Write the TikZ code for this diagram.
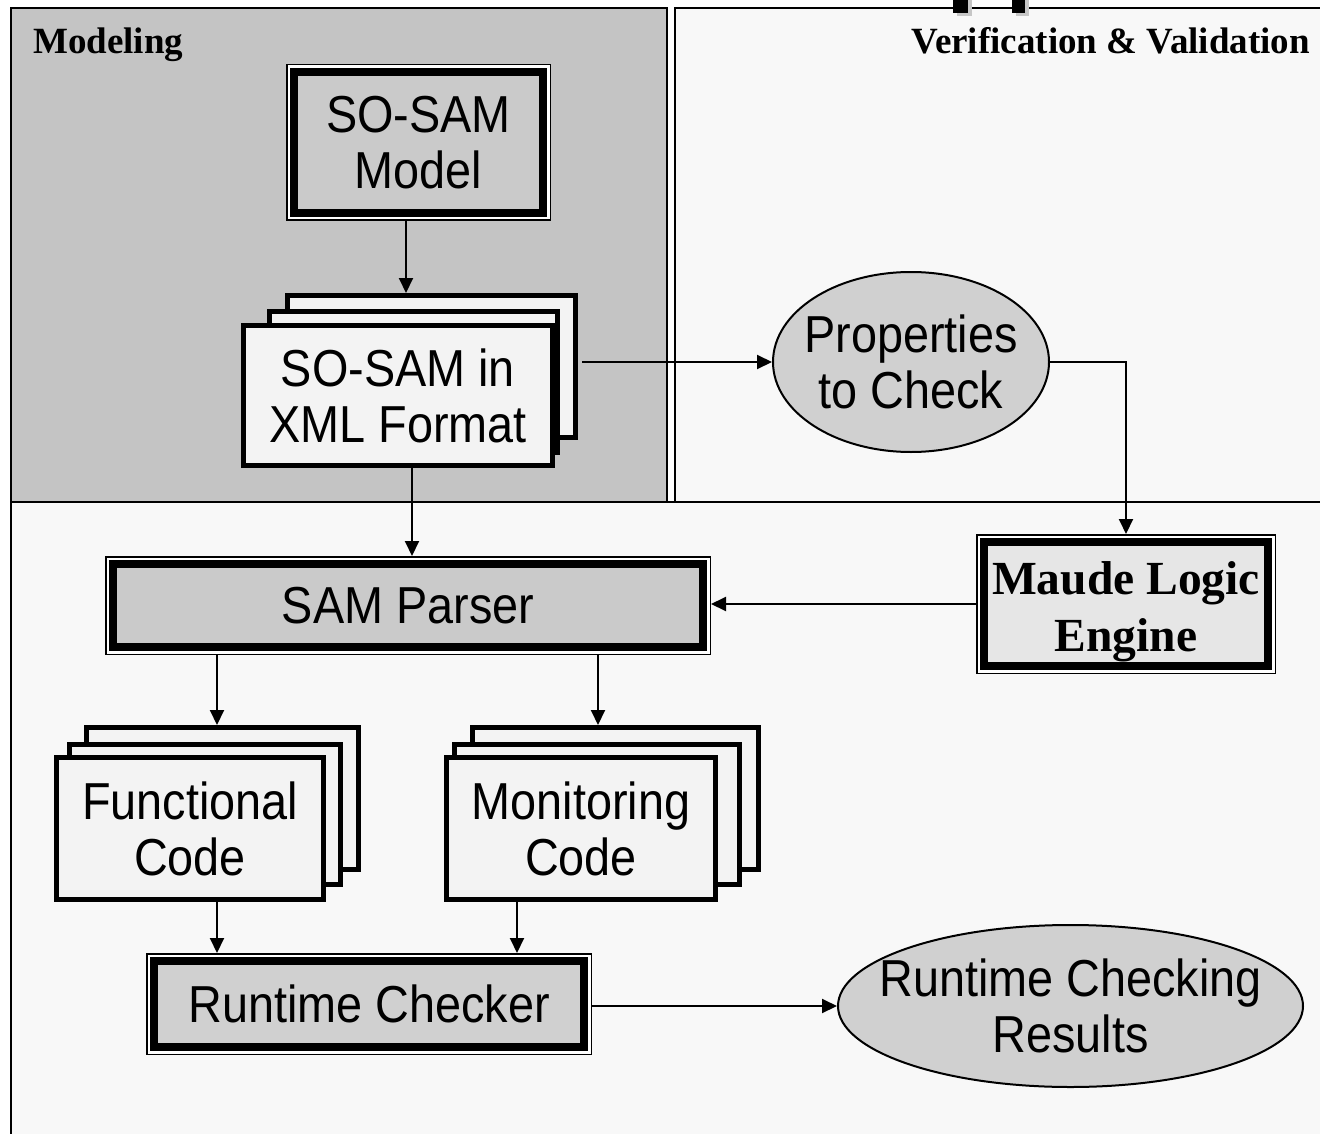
\documentclass[tikz,border=0pt]{standalone}
\usepackage{fontspec}
\usetikzlibrary{arrows.meta,shapes.geometric}
\newfontfamily\boxfont[FakeStretch=0.9]{Liberation Sans}
\newfontfamily\headfont{Liberation Serif}

\definecolor{modelgray}{HTML}{C4C4C4}
\definecolor{panelbg}{HTML}{F8F8F8}
\definecolor{stonegray}{HTML}{CACACA}
\definecolor{checkgray}{HTML}{D0D0D0}
\definecolor{enginegray}{HTML}{E6E6E6}
\definecolor{sheetwhite}{HTML}{F3F3F3}

\tikzset{
  panel/.style={draw, line width=2pt},
  heading/.style={font=\headfont\bfseries\fontsize{37}{40}\selectfont, inner sep=0pt},
  boxtext/.style={font=\boxfont\fontsize{52}{56}\selectfont, align=center},
  framed/.style={draw, line width=8pt, inner sep=0pt, outer sep=8pt,
    preaction={draw, line width=16pt},
    preaction={draw=white, line width=13pt}},
  sheet/.style={draw, line width=5pt, fill=sheetwhite, inner sep=0pt, outer sep=2.5pt},
  oval/.style={ellipse, draw, line width=2pt, fill=checkgray, inner sep=0pt},
  flow/.style={line width=2pt, -{Triangle[length=15pt,width=14pt]}}
}

\begin{document}
\begin{tikzpicture}[x=1pt, y=-1pt]
  \useasboundingbox (0,0) rectangle (1320,1134);
  \fill[white] (0,0) rectangle (1320,1134);

  % the three work areas
  \draw[panel, fill=modelgray] (11,8) rectangle (667,502);
  \draw[panel, fill=panelbg] (675,8) rectangle (1330,502);
  \draw[panel, fill=panelbg] (11,502) rectangle (1330,1145);
  \fill[gray!45] (957,0) rectangle (972,16);  \fill (953,-2) rectangle (968,13);
  \fill[gray!45] (1016,0) rectangle (1029,16); \fill (1012,-2) rectangle (1025,13);

  \node[heading, anchor=base west] (modeltitle) at (33,54) {Modeling};
  \node[heading, anchor=base east] (vvtitle) at (1310,54) {Verification \& Validation};

  % modeling side
  \node[framed, fill=stonegray, boxtext, minimum width=249pt, minimum height=141pt] (model) at (418.5,142.5) {SO-SAM\\Model};
  \node[sheet, minimum width=288pt, minimum height=142pt] (xmlback) at (431.5,366.5) {};
  \node[sheet, minimum width=288pt, minimum height=141pt] (xmlmid) at (413.5,382) {};
  \node[sheet, boxtext, minimum width=309pt, minimum height=140pt] (xml) at (398,395.5) {SO-SAM in\\XML Format};

  % V&V side
  \node[oval, minimum width=276pt, minimum height=180pt] (props) at (911,362) {};
  \node[boxtext] (propstext) at (props) {Properties\\to Check};
  \node[framed, fill=enginegray, minimum width=284pt, minimum height=124pt] (maude) at (1126,604) {};
  \node[font=\headfont\bfseries\fontsize{47.5}{57}\selectfont, align=center] (maudetext) at (1126,612) {Maude Logic\\Engine};

  % code generation and checking
  \node[framed, fill=stonegray, boxtext, minimum width=590pt, minimum height=83pt] (parser) at (408,605.5) {SAM Parser};
  \node[sheet, minimum width=272pt, minimum height=142pt] (funcback) at (222.5,798.5) {};
  \node[sheet, minimum width=271pt, minimum height=140pt] (funcmid) at (205,814.5) {};
  \node[sheet, boxtext, minimum width=267pt, minimum height=142pt] (func) at (190,828.5) {Functional\\Code};
  \node[sheet, minimum width=286pt, minimum height=142pt] (monback) at (615.5,798.5) {};
  \node[sheet, minimum width=285pt, minimum height=140pt] (monmid) at (597,814.5) {};
  \node[sheet, boxtext, minimum width=269pt, minimum height=142pt] (mon) at (581,828.5) {Monitoring\\Code};
  \node[framed, fill=checkgray, boxtext, minimum width=430pt, minimum height=86pt] (checker) at (369,1004) {Runtime Checker};
  \node[oval, minimum width=465pt, minimum height=162pt] (results) at (1070.5,1006) {};
  \node[boxtext] (resultstext) at (results) {Runtime Checking\\Results};

  % arrows
  \coordinate (modelout) at (406,0);
  \coordinate (xmlout) at (412,0);
  \coordinate (funcin) at (217,0);
  \coordinate (monin) at (598,0);
  \coordinate (monout) at (517,0);
  \draw[flow] (model.south -| modelout) -- (xmlback.north -| modelout);
  \draw[flow] (xml.south -| xmlout) -- (parser.north -| xmlout);
  \draw[flow] ([xshift=4pt]xmlback.east |- props.west) -- (props.west);
  \draw[flow] (props.east) -| (maude.north);
  \draw[flow] (maude.west) -- (maude.west -| parser.east);
  \draw[flow] (parser.south -| funcin) -- (funcback.north -| funcin);
  \draw[flow] (parser.south -| monin) -- (monback.north -| monin);
  \draw[flow] (func.south -| funcin) -- (checker.north -| funcin);
  \draw[flow] (mon.south -| monout) -- (checker.north -| monout);
  \draw[flow] (checker.east |- results.west) -- (results.west);
\end{tikzpicture}
\end{document}
